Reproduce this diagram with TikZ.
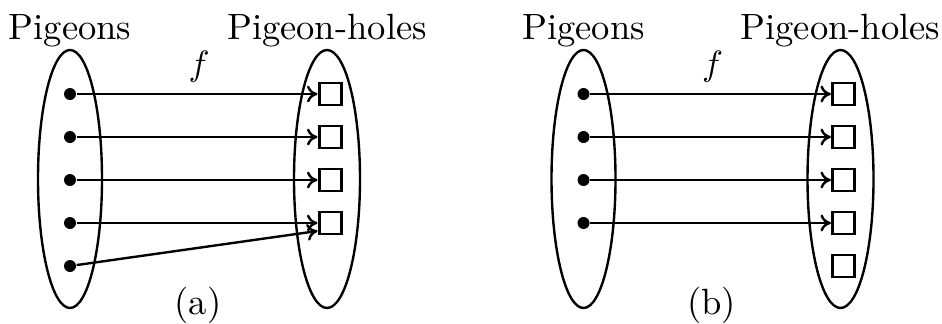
\documentclass[tikz,border=0pt]{standalone}
\usepackage{amsmath,amssymb}
\usetikzlibrary{arrows.meta, shapes.geometric}

\begin{document}
\begin{tikzpicture}[
  every node/.style={font=\fontsize{10.4}{12.5}\selectfont},
  grp/.style={draw, ellipse, line width=0.68pt, minimum width=0.64cm,
              minimum height=2.58cm, inner sep=0pt},
  pgn/.style={circle, fill, minimum size=0.12cm, inner sep=0pt},
  hole/.style={draw, line width=0.85pt, minimum size=0.22cm, inner sep=0pt},
  map/.style={line width=0.68pt, -{To[length=3pt, width=4.8pt]}},
  ttl/.style={anchor=base}]

  \def\dx{5.135}
  \useasboundingbox (0,0) rectangle (9.42,3.23);

  % (a): five pigeons, four holes
  \node[grp] (pa) at (0.70, 1.44) {};
  \node[grp, minimum width=0.66cm] (ha) at (3.27, 1.44) {};
  \node[ttl] (tpa) at (0.70, 2.84) {Pigeons};
  \node[ttl] (tha) at (3.27, 2.84) {Pigeon-holes};
  \node[ttl] (fa) at (1.99, 2.47) {$f$};
  \node[ttl] (cap-a) at (1.98, 0.09) {(a)};

  \node[pgn] (a1) at (0.70, 2.29) {};
  \node[pgn] (a2) at (0.70, 1.86) {};
  \node[pgn] (a3) at (0.70, 1.43) {};
  \node[pgn] (a4) at (0.70, 1.00) {};
  \node[pgn] (a5) at (0.70, 0.57) {};

  \node[hole] (ah1) at (3.30, 2.29) {};
  \node[hole] (ah2) at (3.30, 1.86) {};
  \node[hole] (ah3) at (3.30, 1.43) {};
  \node[hole] (ah4) at (3.30, 1.00) {};

  \draw[map] (a1) -- (ah1);
  \draw[map] (a2) -- (ah2);
  \draw[map] (a3) -- (ah3);
  \draw[map] (a4) -- (ah4);
  \draw[map] (a5) -- ([yshift=-0.08cm]ah4.west);

  % (b): four pigeons, five holes
  \node[grp] (pb) at (\dx+0.70, 1.44) {};
  \node[grp, minimum width=0.66cm] (hb) at (\dx+3.27, 1.44) {};
  \node[ttl] (tpb) at (\dx+0.70, 2.84) {Pigeons};
  \node[ttl] (thb) at (\dx+3.27, 2.84) {Pigeon-holes};
  \node[ttl] (fb) at (\dx+1.99, 2.47) {$f$};
  \node[ttl] (cap-b) at (\dx+1.98, 0.09) {(b)};

  \node[pgn] (b1) at (\dx+0.70, 2.29) {};
  \node[pgn] (b2) at (\dx+0.70, 1.86) {};
  \node[pgn] (b3) at (\dx+0.70, 1.43) {};
  \node[pgn] (b4) at (\dx+0.70, 1.00) {};

  \node[hole] (bh1) at (\dx+3.30, 2.29) {};
  \node[hole] (bh2) at (\dx+3.30, 1.86) {};
  \node[hole] (bh3) at (\dx+3.30, 1.43) {};
  \node[hole] (bh4) at (\dx+3.30, 1.00) {};
  \node[hole] (bh5) at (\dx+3.30, 0.57) {};

  \draw[map] (b1) -- (bh1);
  \draw[map] (b2) -- (bh2);
  \draw[map] (b3) -- (bh3);
  \draw[map] (b4) -- (bh4);

\end{tikzpicture}
\end{document}
